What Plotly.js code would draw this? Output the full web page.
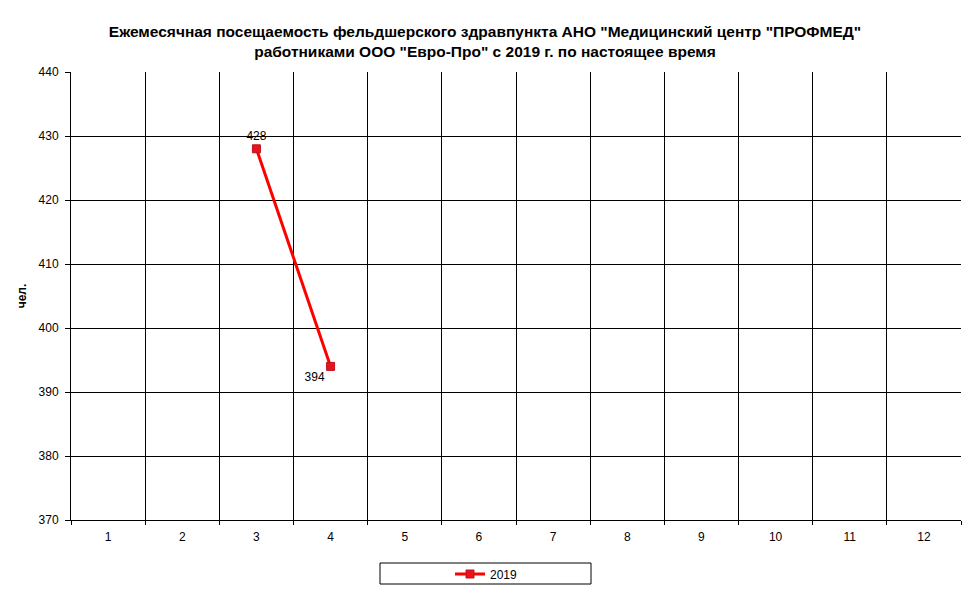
<!DOCTYPE html>
<html><head><meta charset="utf-8">
<script src="https://cdn.plot.ly/plotly-3.0.1.min.js"></script>
<style>html,body{margin:0;padding:0;background:#fff;}#chart{width:969px;height:592px;}</style>
</head><body><div id="chart"></div>
<script>
const months = [1,2,3,4,5,6,7,8,9,10,11,12];
const seriesName = "2019";
const xVals = [3, 4];
const visits = [428, 394];
const labelPos = ["top center", "bottom left"];
const yTicks = [370,380,390,400,410,420,430,440];

const trace = {
  x: xVals, y: visits, name: seriesName, type: "scatter", mode: "lines+markers+text",
  text: visits.map(String), textposition: labelPos,
  textfont: {family: "Liberation Sans, Arial, sans-serif", size: 12, color: "#000"},
  line: {color: "#ff0000", width: 3},
  marker: {symbol: "square", size: 8, color: "#e8141c", line: {color: "#c01020", width: 1}},
  cliponaxis: false
};
const layout = {
  width: 969, height: 592,
  margin: {l: 71, r: 8, t: 72, b: 72, autoexpand: false},
  paper_bgcolor: "#fff", plot_bgcolor: "#fff",
  font: {family: "Liberation Sans, Arial, sans-serif", size: 12, color: "#000"},
  title: {text: 'Ежемесячная посещаемость фельдшерского здравпункта АНО "Медицинский центр "ПРОФМЕД"<br>работниками ООО "Евро-Про" с 2019 г. по настоящее время',
    font: {family: "Liberation Sans, Arial, sans-serif", size: 15.5, color: "#000", weight: "bold"},
    x: 485/969, xanchor: "center", xref: "container", yref: "container", y: 1 - 37/592, yanchor: "middle"},
  xaxis: {range: [0.5, 12.5], tickvals: months, ticktext: months.map(String), ticks: "", showgrid: false,
    showline: true, linecolor: "#000", linewidth: 1, zeroline: false, fixedrange: true,
    tickfont: {size: 12}, ticklabelstandoff: 6,
    minor: {tick0: 0.5, dtick: 1, showgrid: true, gridcolor: "#000", gridwidth: 1, ticks: "outside", ticklen: 4, tickcolor: "#000"}},
  yaxis: {range: [370, 440], tickvals: yTicks, showgrid: true, gridcolor: "#000", gridwidth: 1,
    ticks: "outside", ticklen: 5, tickcolor: "#000", showline: true, linecolor: "#000", zeroline: false,
    tickfont: {size: 12}, ticklabelstandoff: 4,
    title: {text: "чел.", font: {size: 12, weight: "bold"}, standoff: 9}},
  showlegend: true,
  legend: {orientation: "h", x: (450-71)/890, xanchor: "left", y: (520-574)/448, yanchor: "middle",
    borderwidth: 0, bgcolor: "rgba(0,0,0,0)", font: {size: 12}},
  shapes: [{type: "rect", xref: "paper", yref: "paper", x0: (380-71)/890, x1: (591-71)/890,
    y0: (520-563)/448, y1: (520-584)/448, line: {color: "#000", width: 1}, fillcolor: "rgba(0,0,0,0)"}]
};
Plotly.newPlot("chart", [trace], layout, {displayModeBar: false, staticPlot: true});
</script></body></html>
